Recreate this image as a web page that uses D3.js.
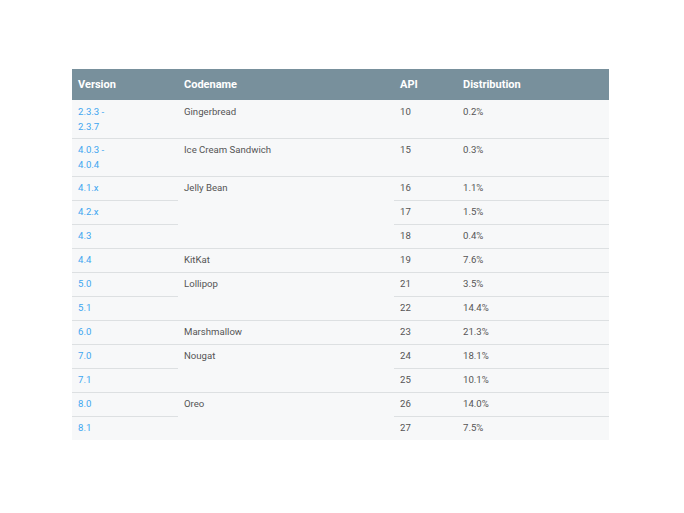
<!DOCTYPE html>
<html>
<head>
<meta charset="utf-8">
<script src="https://cdn.jsdelivr.net/npm/d3@7"></script>
<style>
  html, body { margin: 0; padding: 0; background: #fff; }
  svg { display: block; font-family: Roboto, "Noto Sans", sans-serif; }
</style>
</head>
<body>
<svg id="chart" width="684" height="513"></svg>
<script>
// table data
const headers = ["Version", "Codename", "API", "Distribution"];
const versions = [["2.3.3 -", "2.3.7"], ["4.0.3 -", "4.0.4"], ["4.1.x"], ["4.2.x"], ["4.3"], ["4.4"],
  ["5.0"], ["5.1"], ["6.0"], ["7.0"], ["7.1"], ["8.0"], ["8.1"]];
// empty string = merged with the codename cell above
const codenames = ["Gingerbread", "Ice Cream Sandwich", "Jelly Bean", "", "", "KitKat",
  "Lollipop", "", "Marshmallow", "Nougat", "", "Oreo", ""];
const apiLevels = [10, 15, 16, 17, 18, 19, 21, 22, 23, 24, 25, 26, 27];
const distribution = [0.2, 0.3, 1.1, 1.5, 0.4, 7.6, 3.5, 14.4, 21.3, 18.1, 10.1, 14.0, 7.5];

const svg = d3.select("#chart");
const tLeft = 72, tRight = 609, tTop = 69, headH = 31;
const lineH = 15;

// columns
const colX = d3.scaleOrdinal().domain(headers).range([72, 178, 394, 457]);
const colW = (c) => {
  const i = headers.indexOf(c);
  return (i < headers.length - 1 ? colX(headers[i + 1]) : tRight) - colX(c);
};

// rows, height grows with line count
const rowH = versions.map((v) => 24 + (v.length - 1) * 14);
const offsets = [0, ...d3.cumsum(rowH)];
const yScale = d3.scaleLinear()
  .domain([0, offsets[offsets.length - 1]])
  .range([tTop + headH, tTop + headH + offsets[offsets.length - 1]]);

const rows = versions.map((v, i) => ({
  version: v,
  codename: codenames[i],
  api: apiLevels[i],
  dist: distribution[i].toFixed(1) + "%",
  y0: yScale(offsets[i]),
  y1: yScale(offsets[i + 1])
}));

// body background
svg.append("rect")
  .attr("x", tLeft).attr("y", yScale(0))
  .attr("width", tRight - tLeft)
  .attr("height", yScale.range()[1] - yScale(0))
  .attr("fill", "#f7f8f9");

// header
svg.append("rect")
  .attr("x", tLeft).attr("y", tTop)
  .attr("width", tRight - tLeft).attr("height", headH)
  .attr("fill", "#78909c");

svg.append("g")
  .selectAll("text")
  .data(headers)
  .join("text")
  .attr("x", (d) => colX(d) + 6)
  .attr("y", tTop + 19)
  .attr("fill", "#fff")
  .attr("font-size", 11)
  .attr("font-weight", 700)
  .text((d) => d);

// row dividers (skip the codename column where the cell is merged)
const lines = svg.append("g").attr("stroke", "#dde0e2").attr("stroke-width", 1);
rows.slice(0, -1).forEach((r, i) => {
  headers.forEach((c) => {
    if (c === "Codename" && codenames[i + 1] === "") return;
    lines.append("line")
      .attr("x1", colX(c)).attr("x2", colX(c) + colW(c))
      .attr("y1", Math.round(r.y1) + 0.5).attr("y2", Math.round(r.y1) + 0.5);
  });
});

// cells
const body = svg.append("g").attr("font-size", 9.6);

body.selectAll("text.version")
  .data(rows)
  .join("text")
  .attr("class", "version")
  .attr("fill", "#3ea6f0")
  .attr("x", colX("Version") + 6)
  .attr("y", (d) => d.y0 + 15)
  .selectAll("tspan")
  .data((d) => d.version)
  .join("tspan")
  .attr("x", colX("Version") + 6)
  .attr("dy", (d, i) => (i === 0 ? 0 : lineH))
  .text((d) => d);

body.selectAll("text.codename")
  .data(rows.filter((d) => d.codename !== ""))
  .join("text")
  .attr("class", "codename")
  .attr("fill", "#555")
  .attr("x", colX("Codename") + 6)
  .attr("y", (d) => d.y0 + 15)
  .text((d) => d.codename);

body.selectAll("text.api")
  .data(rows)
  .join("text")
  .attr("class", "api")
  .attr("fill", "#555")
  .attr("x", colX("API") + 6)
  .attr("y", (d) => d.y0 + 15)
  .text((d) => d.api);

body.selectAll("text.dist")
  .data(rows)
  .join("text")
  .attr("class", "dist")
  .attr("fill", "#555")
  .attr("x", colX("Distribution") + 6)
  .attr("y", (d) => d.y0 + 15)
  .text((d) => d.dist);
</script>
</body>
</html>
